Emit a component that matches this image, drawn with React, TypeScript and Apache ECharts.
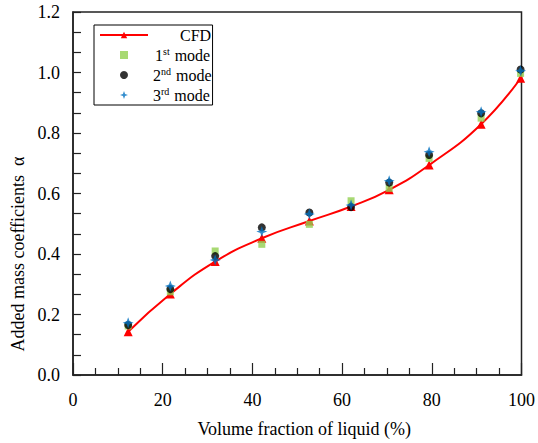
import React, { useEffect, useRef } from "react";
import * as echarts from "echarts";

const volumeFraction = [12.3, 21.7, 31.7, 42.1, 52.7, 62, 70.5, 79.4, 91, 99.8];
const cfd = [0.143, 0.268, 0.375, 0.452, 0.509, 0.557, 0.612, 0.694, 0.829, 0.981];
const mode1 = [0.162, 0.275, 0.41, 0.432, 0.498, 0.576, 0.617, 0.716, 0.849, 0.997];
const mode2 = [0.165, 0.284, 0.393, 0.488, 0.537, 0.555, 0.636, 0.727, 0.865, 1.01];
const mode3 = [0.173, 0.294, 0.38, 0.474, 0.532, 0.562, 0.642, 0.738, 0.87, 1.006];

const seriesNames = ["CFD", "1st mode", "2nd mode", "3rd mode"];

const FONT = "'Liberation Serif', 'Times New Roman', serif";
const STAR = "path://M0,-6 L1.6,-1.6 L6,0 L1.6,1.6 L0,6 L-1.6,1.6 L-6,0 L-1.6,-1.6 Z";
const SQUARE = "path://M0,0 L10,0 L10,10 L0,10 Z";

const pair = (ys: number[]) => volumeFraction.map((x, i) => [x, ys[i]]);

const legendSpacer = [27, 2, 0, 0];

export default function App() {
  const ref = useRef<HTMLDivElement>(null);
  useEffect(() => {
    if (!ref.current) return;
    const chart = echarts.init(ref.current, undefined, { renderer: "svg" });
    const rich: Record<string, any> = {
      t: { fontSize: 16, fontFamily: FONT, color: "#000", lineHeight: 18 },
      sup: { fontSize: 10, fontFamily: FONT, color: "#000", verticalAlign: "top", lineHeight: 18, padding: [0, 1, 7, 0] },
    };
    legendSpacer.forEach((w, i) => {
      rich["sp" + i] = { width: w, fontSize: 16, lineHeight: 18 };
    });
    chart.setOption({
      animation: false,
      textStyle: { fontFamily: FONT },
      grid: {
        left: 73,
        right: 14,
        top: 12,
        bottom: 68,
        show: true,
        borderColor: "#222",
        borderWidth: 1.5,
        backgroundColor: "transparent",
      },
      legend: {
        orient: "vertical",
        left: 94,
        top: 25,
        itemWidth: 48,
        itemHeight: 8,
        itemGap: 3,
        padding: [2, 1, 2, 5],
        borderColor: "#000",
        borderWidth: 1,
        data: [
          { name: seriesNames[0] },
          { name: seriesNames[1], icon: SQUARE },
          { name: seriesNames[2], icon: "circle" },
          { name: seriesNames[3], icon: STAR },
        ],
        formatter: (name: string) => {
          const idx = seriesNames.indexOf(name);
          const sp = `{sp${idx}| }`;
          const m = name.match(/^(\d)(st|nd|rd) mode$/);
          if (m) return `${sp}{t|${m[1]}}{sup|${m[2]}}{t| mode}`;
          return `${sp}{t|${name}}`;
        },
        textStyle: { fontFamily: FONT, rich },
      },
      xAxis: {
        type: "value",
        min: 0,
        max: 100,
        interval: 20,
        name: "Volume fraction of liquid (%)",
        nameLocation: "middle",
        nameGap: 45,
        nameTextStyle: { fontFamily: FONT, fontSize: 18, color: "#000", padding: [0, 0, 0, 14] },
        axisLine: { lineStyle: { color: "#222", width: 1.5 } },
        axisTick: { inside: true, length: 12, lineStyle: { color: "#222", width: 1.2 } },
        minorTick: { show: true, splitNumber: 4, length: 7, lineStyle: { color: "#222", width: 1.2 } },
        axisLabel: { fontFamily: FONT, fontSize: 18, color: "#000", margin: 16 },
        splitLine: { show: false },
      },
      yAxis: {
        type: "value",
        min: 0,
        max: 1.2,
        interval: 0.2,
        axisLine: { show: true, lineStyle: { color: "#222", width: 1.5 } },
        axisTick: { show: true, inside: true, length: 8, lineStyle: { color: "#222", width: 1.2 } },
        minorTick: { show: true, splitNumber: 3, length: 8, lineStyle: { color: "#222", width: 1.2 } },
        axisLabel: {
          fontFamily: FONT,
          fontSize: 18,
          color: "#000",
          margin: 13,
          formatter: (v: number) => v.toFixed(1),
        },
        splitLine: { show: false },
      },
      graphic: [
        {
          type: "text",
          x: 18,
          y: 254,
          rotation: Math.PI / 2,
          style: {
            text: "Added mass coefficients  α",
            font: `18px ${FONT}`,
            fill: "#000",
            textAlign: "center",
            textVerticalAlign: "middle",
          },
        },
      ],
      series: [
        {
          name: "CFD",
          type: "line",
          data: pair(cfd),
          smooth: 0.5,
          symbol: "triangle",
          symbolSize: 9,
          lineStyle: { color: "#ff0000", width: 2 },
          itemStyle: { color: "#ff0000" },
          z: 2,
        },
        {
          name: "1st mode",
          type: "scatter",
          data: pair(mode1),
          symbol: "rect",
          symbolSize: 7,
          itemStyle: { color: "#92d050" },
          z: 3,
        },
        {
          name: "2nd mode",
          type: "scatter",
          data: pair(mode2),
          symbol: "circle",
          symbolSize: 8,
          itemStyle: { color: "#000" },
          z: 4,
        },
        {
          name: "3rd mode",
          type: "scatter",
          data: pair(mode3),
          symbol: STAR,
          symbolSize: 11,
          itemStyle: { color: "#0070c0" },
          z: 5,
        },
      ],
    });
    return () => chart.dispose();
  }, []);
  return <div ref={ref} style={{ width: 538, height: 443, position: "absolute", left: 0, top: 0 }} />;
}
